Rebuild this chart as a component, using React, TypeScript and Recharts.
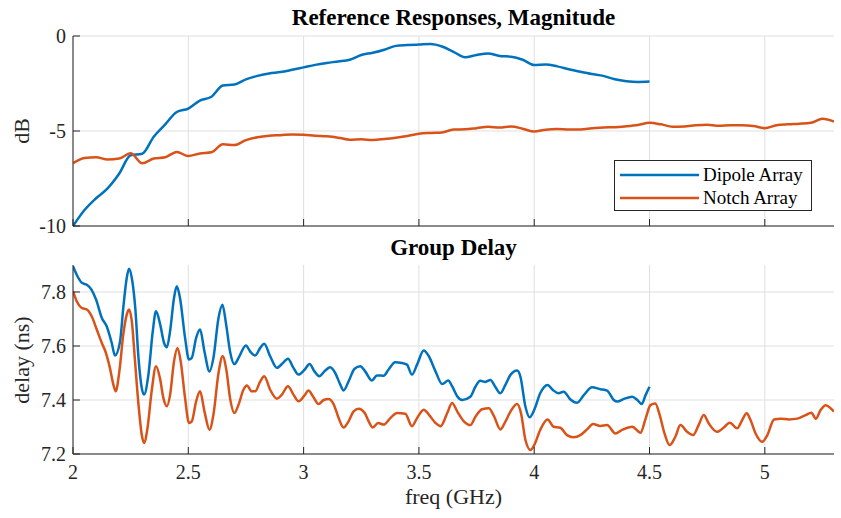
import { LineChart, Line, XAxis, YAxis, CartesianGrid } from "recharts";

// --- magnitude (dB), sampled every 0.05 GHz ---
const magFreq = [
  2.0, 2.05, 2.1, 2.15, 2.2, 2.25, 2.3, 2.35, 2.4, 2.45,
  2.5, 2.55, 2.6, 2.65, 2.7, 2.75, 2.8, 2.85, 2.9, 2.95,
  3.0, 3.05, 3.1, 3.15, 3.2, 3.25, 3.3, 3.35, 3.4, 3.45,
  3.5, 3.55, 3.6, 3.65, 3.7, 3.75, 3.8, 3.85, 3.9, 3.95,
  4.0, 4.05, 4.1, 4.15, 4.2, 4.25, 4.3, 4.35, 4.4, 4.45,
  4.5, 4.55, 4.6, 4.65, 4.7, 4.75, 4.8, 4.85, 4.9, 4.95,
  5.0, 5.05, 5.1, 5.15, 5.2, 5.25, 5.3,
];

// dipole only measured up to 4.5 GHz
const dipoleMag = [
  -10, -9.16, -8.54, -8.02, -7.25, -6.28, -6.2, -5.3, -4.65, -4.0,
  -3.82, -3.4, -3.2, -2.6, -2.55, -2.28, -2.1, -1.97, -1.9, -1.78,
  -1.65, -1.52, -1.42, -1.34, -1.25, -1.0, -0.88, -0.72, -0.52, -0.48,
  -0.45, -0.42, -0.55, -0.83, -1.12, -1.0, -0.92, -1.05, -1.09, -1.25,
  -1.53, -1.5, -1.6, -1.75, -1.88, -2.0, -2.1, -2.28, -2.38, -2.42,
  -2.4,
];

const notchMag = [
  -6.7, -6.42, -6.38, -6.5, -6.45, -6.17, -6.7, -6.45, -6.38, -6.1,
  -6.32, -6.18, -6.12, -5.7, -5.74, -5.48, -5.33, -5.25, -5.22, -5.18,
  -5.2, -5.25, -5.28, -5.35, -5.46, -5.44, -5.47, -5.42, -5.35, -5.26,
  -5.14, -5.1, -5.08, -4.92, -4.91, -4.85, -4.78, -4.82, -4.76, -4.88,
  -5.03, -4.93, -4.9, -4.92, -4.92, -4.86, -4.81, -4.8, -4.75, -4.68,
  -4.57, -4.65, -4.77, -4.76, -4.7, -4.67, -4.73, -4.7, -4.7, -4.74,
  -4.85, -4.7, -4.65, -4.62, -4.57, -4.35, -4.5,
];

// --- group delay (ns) ---
const dipoleDelayFreq = [
  2.0, 2.016, 2.04, 2.06, 2.08, 2.1, 2.125, 2.146, 2.168, 2.182,
  2.204, 2.218, 2.233, 2.243, 2.255, 2.27, 2.284, 2.298, 2.308, 2.327,
  2.346, 2.36, 2.378, 2.395, 2.407, 2.421, 2.438, 2.45, 2.464, 2.486,
  2.503, 2.515, 2.534, 2.551, 2.57, 2.592, 2.609, 2.631, 2.648, 2.664,
  2.681, 2.7, 2.718, 2.75, 2.768, 2.79, 2.812, 2.829, 2.855, 2.884,
  2.906, 2.932, 2.956, 2.978, 3.004, 3.026, 3.047, 3.068, 3.094, 3.115,
  3.137, 3.159, 3.173, 3.195, 3.221, 3.246, 3.267, 3.296, 3.318, 3.347,
  3.368, 3.397, 3.426, 3.448, 3.47, 3.492, 3.521, 3.543, 3.572, 3.601,
  3.627, 3.644, 3.666, 3.688, 3.723, 3.745, 3.766, 3.788, 3.81, 3.831,
  3.853, 3.875, 3.897, 3.926, 3.94, 3.962, 3.98, 4.0, 4.026, 4.058,
  4.081, 4.106, 4.128, 4.157, 4.186, 4.215, 4.251, 4.287, 4.316, 4.345,
  4.36, 4.389, 4.425, 4.447, 4.466, 4.483, 4.5,
];
const dipoleDelay = [
  7.895, 7.864, 7.833, 7.827, 7.809, 7.772, 7.704, 7.673, 7.611, 7.565,
  7.617, 7.741, 7.852, 7.886, 7.852, 7.741, 7.556, 7.445, 7.42, 7.494,
  7.655, 7.729, 7.68, 7.611, 7.595, 7.655, 7.778, 7.821, 7.778, 7.63,
  7.55, 7.556, 7.63, 7.661, 7.58, 7.506, 7.556, 7.704, 7.753, 7.68,
  7.58, 7.533, 7.556, 7.602, 7.58, 7.565, 7.593, 7.608, 7.562, 7.519,
  7.533, 7.553, 7.519, 7.494, 7.512, 7.533, 7.506, 7.488, 7.509, 7.521,
  7.5, 7.457, 7.435, 7.469, 7.516, 7.525, 7.506, 7.472, 7.491, 7.49,
  7.512, 7.54, 7.537, 7.531, 7.494, 7.531, 7.583, 7.562, 7.506, 7.459,
  7.472, 7.451, 7.414, 7.4, 7.412, 7.449, 7.471, 7.467, 7.474, 7.449,
  7.425, 7.456, 7.493, 7.509, 7.487, 7.375, 7.336, 7.363, 7.425, 7.456,
  7.437, 7.425, 7.431, 7.402, 7.39, 7.418, 7.447, 7.44, 7.435, 7.4,
  7.394, 7.404, 7.412, 7.4, 7.385, 7.418, 7.449,
];

const notchDelayFreq = [
  2.0, 2.016, 2.038, 2.06, 2.081, 2.103, 2.125, 2.143, 2.16, 2.175,
  2.185, 2.201, 2.218, 2.233, 2.243, 2.255, 2.269, 2.284, 2.298, 2.308,
  2.323, 2.341, 2.36, 2.377, 2.392, 2.407, 2.421, 2.438, 2.453, 2.467,
  2.486, 2.503, 2.515, 2.534, 2.551, 2.57, 2.592, 2.609, 2.631, 2.649,
  2.666, 2.681, 2.7, 2.718, 2.739, 2.754, 2.775, 2.79, 2.812, 2.829,
  2.855, 2.884, 2.906, 2.932, 2.956, 2.978, 3.004, 3.021, 3.043, 3.065,
  3.087, 3.108, 3.13, 3.152, 3.173, 3.195, 3.217, 3.239, 3.265, 3.282,
  3.3, 3.323, 3.347, 3.376, 3.405, 3.441, 3.47, 3.492, 3.521, 3.543,
  3.572, 3.594, 3.623, 3.644, 3.666, 3.695, 3.723, 3.745, 3.774, 3.803,
  3.825, 3.853, 3.875, 3.897, 3.926, 3.943, 3.962, 3.984, 4.0, 4.026,
  4.058, 4.084, 4.113, 4.142, 4.171, 4.2, 4.229, 4.255, 4.287, 4.316,
  4.352, 4.381, 4.425, 4.461, 4.483, 4.504, 4.525, 4.544, 4.565, 4.587,
  4.612, 4.634, 4.663, 4.689, 4.713, 4.735, 4.757, 4.793, 4.822, 4.848,
  4.88, 4.902, 4.921, 4.938, 4.96, 4.989, 5.011, 5.04, 5.069, 5.105,
  5.141, 5.177, 5.202, 5.221, 5.242, 5.264, 5.286, 5.3,
];
const notchDelay = [
  7.803, 7.766, 7.741, 7.735, 7.71, 7.661, 7.611, 7.574, 7.519, 7.457,
  7.432, 7.506, 7.642, 7.716, 7.735, 7.692, 7.543, 7.383, 7.272, 7.241,
  7.296, 7.432, 7.525, 7.481, 7.407, 7.377, 7.419, 7.543, 7.593, 7.543,
  7.407, 7.315, 7.321, 7.395, 7.432, 7.358, 7.29, 7.346, 7.5, 7.562,
  7.506, 7.407, 7.352, 7.383, 7.438, 7.454, 7.432, 7.432, 7.469, 7.488,
  7.438, 7.405, 7.42, 7.451, 7.42, 7.395, 7.417, 7.435, 7.41, 7.385,
  7.4, 7.404, 7.385, 7.333, 7.298, 7.321, 7.358, 7.368, 7.352, 7.321,
  7.298, 7.315, 7.309, 7.333, 7.352, 7.349, 7.303, 7.333, 7.364, 7.346,
  7.315, 7.303, 7.352, 7.389, 7.358, 7.321, 7.307, 7.338, 7.366, 7.369,
  7.341, 7.291, 7.32, 7.357, 7.385, 7.35, 7.252, 7.215, 7.233, 7.289,
  7.328, 7.301, 7.297, 7.27, 7.262, 7.27, 7.291, 7.311, 7.304, 7.307,
  7.276, 7.289, 7.301, 7.279, 7.331, 7.381, 7.387, 7.345, 7.276, 7.233,
  7.264, 7.307, 7.282, 7.27, 7.307, 7.344, 7.313, 7.282, 7.298, 7.316,
  7.295, 7.326, 7.351, 7.326, 7.276, 7.245, 7.27, 7.328, 7.331, 7.328,
  7.331, 7.344, 7.353, 7.331, 7.363, 7.381, 7.369, 7.357,
];

const freqTicks = [2, 2.5, 3, 3.5, 4, 4.5, 5];
const magTicks = [-10, -5, 0];
const delayTicks = [7.2, 7.4, 7.6, 7.8];

const AXIS = "#262626";
const GRID = "#dfdfdf";
const BLUE = "#0072BD";
const ORANGE = "#D95319";
const FONT = '"Liberation Serif", "Times New Roman", serif';

const tickStyle = { fill: AXIS, fontSize: 20, fontFamily: FONT };

function RotLabel({ text, cx, cy }: { text: string; cx: number; cy: number }) {
  return (
    <div
      style={{
        position: "absolute",
        left: cx - 100,
        top: cy - 12,
        width: 200,
        height: 24,
        lineHeight: "24px",
        textAlign: "center",
        fontSize: 22,
        color: AXIS,
        transform: "rotate(-90deg)",
      }}
    >
      {text}
    </div>
  );
}

export default function App() {
  const magData = magFreq.map((f, i) => ({ f, dipole: dipoleMag[i], notch: notchMag[i] }));
  const dipoleDelayData = dipoleDelayFreq.map((f, i) => ({ f, v: dipoleDelay[i] }));
  const notchDelayData = notchDelayFreq.map((f, i) => ({ f, v: notchDelay[i] }));

  return (
    <div
      style={{
        position: "absolute",
        left: 0,
        top: 0,
        width: 841,
        height: 518,
        background: "#fff",
        fontFamily: FONT,
        color: AXIS,
      }}
    >
      <div style={{ position: "absolute", left: 0, top: 0 }}>
        <LineChart width={841} height={240} data={magData} margin={{ top: 36, right: 7, bottom: 0, left: 0 }}>
          <CartesianGrid stroke={GRID} syncWithTicks />
          <XAxis
            dataKey="f"
            type="number"
            domain={[2, 5.3]}
            ticks={freqTicks}
            allowDataOverflow
            height={14}
            tickSize={-7}
            tickFormatter={() => ""}
            axisLine={{ stroke: AXIS }}
            tickLine={{ stroke: AXIS }}
          />
          <YAxis
            type="number"
            domain={[-10, 0]}
            ticks={magTicks}
            width={73}
            tickSize={-7}
            tickMargin={14}
            tick={tickStyle}
            axisLine={{ stroke: AXIS }}
            tickLine={{ stroke: AXIS }}
          />
          <Line dataKey="dipole" type="monotone" stroke={BLUE} strokeWidth={2.5} dot={false} isAnimationActive={false} />
          <Line dataKey="notch" type="monotone" stroke={ORANGE} strokeWidth={2.5} dot={false} isAnimationActive={false} />
        </LineChart>
      </div>

      <div style={{ position: "absolute", left: 0, top: 240 }}>
        <LineChart width={841} height={278} margin={{ top: 25, right: 7, bottom: 0, left: 0 }}>
          <CartesianGrid stroke={GRID} syncWithTicks />
          <XAxis
            dataKey="f"
            type="number"
            domain={[2, 5.3]}
            ticks={freqTicks}
            allowDataOverflow
            height={64}
            tickSize={-7}
            tickMargin={18}
            tick={tickStyle}
            axisLine={{ stroke: AXIS }}
            tickLine={{ stroke: AXIS }}
          />
          <YAxis
            type="number"
            domain={[7.2, 7.9]}
            ticks={delayTicks}
            allowDataOverflow
            width={73}
            tickSize={-7}
            tickMargin={14}
            tick={tickStyle}
            tickFormatter={(v: number) => v.toFixed(1)}
            axisLine={{ stroke: AXIS }}
            tickLine={{ stroke: AXIS }}
          />
          <Line data={dipoleDelayData} dataKey="v" type="monotone" stroke={BLUE} strokeWidth={2.5} dot={false} isAnimationActive={false} />
          <Line data={notchDelayData} dataKey="v" type="monotone" stroke={ORANGE} strokeWidth={2.5} dot={false} isAnimationActive={false} />
        </LineChart>
      </div>

      {/* titles and axis labels */}
      <div style={{ position: "absolute", left: 73, top: 6, width: 761, textAlign: "center", fontSize: 23, fontWeight: "bold", lineHeight: 1, color: "#000" }}>
        Reference Responses, Magnitude
      </div>
      <div style={{ position: "absolute", left: 73, top: 236, width: 761, textAlign: "center", fontSize: 23, fontWeight: "bold", lineHeight: 1, color: "#000" }}>
        Group Delay
      </div>
      <div style={{ position: "absolute", left: 73, top: 486, width: 761, textAlign: "center", fontSize: 22, lineHeight: 1 }}>
        freq (GHz)
      </div>
      <RotLabel text="dB" cx={22} cy={131} />
      <RotLabel text="delay (ns)" cx={22} cy={360} />

      {/* legend */}
      <div style={{ position: "absolute", left: 614, top: 160, width: 198, height: 51, boxSizing: "border-box", border: `1px solid ${AXIS}`, background: "#fff" }}>
        <svg width={196} height={49} style={{ display: "block" }}>
          <line x1={5} x2={84} y1={14} y2={14} stroke={BLUE} strokeWidth={2.5} />
          <text x={88} y={20} fontSize={19} fontFamily={FONT} fill="#000">Dipole Array</text>
          <line x1={5} x2={84} y1={37} y2={37} stroke={ORANGE} strokeWidth={2.5} />
          <text x={88} y={43} fontSize={19} fontFamily={FONT} fill="#000">Notch Array</text>
        </svg>
      </div>
    </div>
  );
}
